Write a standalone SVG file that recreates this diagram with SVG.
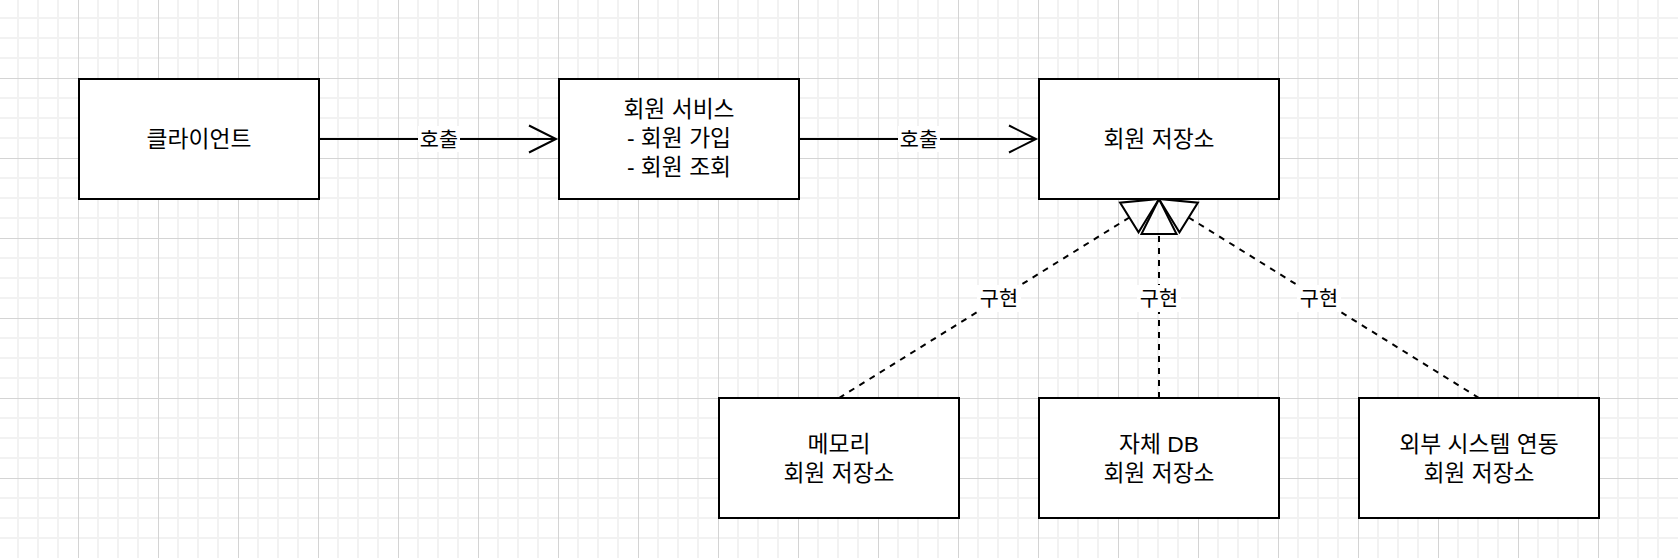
<svg xmlns="http://www.w3.org/2000/svg" width="1678" height="558" viewBox="0 0 1678 558">
<style>
.box{fill:#fff;stroke:#000;stroke-width:2}
.t{font-family:"Liberation Sans","Noto Sans CJK KR",sans-serif;font-size:22.8px;text-anchor:middle;fill:#000}
.lbl{font-family:"Liberation Sans","Noto Sans CJK KR",sans-serif;font-size:20.8px;text-anchor:middle;fill:#000}
.lbg{fill:#fff}
.call{stroke:#000;stroke-width:2;fill:none}
.impl{stroke:#000;stroke-width:2;fill:none;stroke-dasharray:6 6}
.mk{fill:none;stroke:#000;stroke-width:2;stroke-dasharray:none}
</style>
<defs>
<pattern id="grid" patternUnits="userSpaceOnUse" x="0" y="0" width="80" height="80">
<rect width="80" height="80" fill="#fff"/>
<g fill="#f2f2f2">
<rect x="17" y="0" width="2" height="80"/><rect x="37" y="0" width="2" height="80"/><rect x="57" y="0" width="2" height="80"/>
<rect x="0" y="17" width="80" height="2"/><rect x="0" y="37" width="80" height="2"/><rect x="0" y="57" width="80" height="2"/>
</g>
<g fill="#d4d4d4">
<rect x="78" y="0" width="1" height="80"/><rect x="0" y="78" width="80" height="1"/>
</g>
</pattern>
<marker id="open" markerUnits="userSpaceOnUse" markerWidth="60" markerHeight="60" refX="0" refY="0" orient="auto" overflow="visible" style="overflow:visible">
<path class="mk" d="M-27,-13.5 L0,0 L-27,13.5"/>
</marker>
<marker id="tri" markerUnits="userSpaceOnUse" markerWidth="60" markerHeight="60" refX="0" refY="0" orient="auto" overflow="visible" style="overflow:visible">
<path class="mk" d="M35,0 L0,-17.5 L0,17.5 Z"/>
</marker>
</defs>
<rect x="0" y="0" width="1678" height="558" fill="url(#grid)"/>

<g id="connectors">
<g id="e-client-service">
<path class="call" d="M319,139 L556,139" marker-end="url(#open)"/>
<rect class="lbg" x="418" y="126" width="42" height="26"/>
<text class="lbl" x="439" y="146.5">호출</text>
</g>
<g id="e-service-storage">
<path class="call" d="M799,139 L1036,139" marker-end="url(#open)"/>
<rect class="lbg" x="898" y="126" width="42" height="26"/>
<text class="lbl" x="919" y="146.5">호출</text>
</g>
<g id="e-memory-storage">
<path class="impl" d="M839,398 L1129.3,217.5" marker-end="url(#tri)"/>
<rect class="lbg" x="977" y="285" width="44" height="27"/>
<text class="lbl" x="999" y="305.5">구현</text>
</g>
<g id="e-db-storage">
<path class="impl" d="M1159,398 L1159,234" marker-end="url(#tri)"/>
<rect class="lbg" x="1137" y="285" width="44" height="27"/>
<text class="lbl" x="1159" y="305.5">구현</text>
</g>
<g id="e-external-storage">
<path class="impl" d="M1479,398 L1188.7,217.5" marker-end="url(#tri)"/>
<rect class="lbg" x="1297" y="285" width="44" height="27"/>
<text class="lbl" x="1319" y="305.5">구현</text>
</g>
</g>

<g id="client">
<rect class="box" x="79" y="79" width="240" height="120"/>
<text class="t" x="199" y="147">클라이언트</text>
</g>
<g id="member-service">
<rect class="box" x="559" y="79" width="240" height="120"/>
<text class="t" x="679" y="117">회원 서비스</text>
<text class="t" x="679" y="146">- 회원 가입</text>
<text class="t" x="679" y="175">- 회원 조회</text>
</g>
<g id="member-repository">
<rect class="box" x="1039" y="79" width="240" height="120"/>
<text class="t" x="1159" y="147">회원 저장소</text>
</g>
<g id="memory-repository">
<rect class="box" x="719" y="398" width="240" height="120"/>
<text class="t" x="839" y="451.5">메모리</text>
<text class="t" x="839" y="480.5">회원 저장소</text>
</g>
<g id="db-repository">
<rect class="box" x="1039" y="398" width="240" height="120"/>
<text class="t" x="1159" y="451.5">자체 DB</text>
<text class="t" x="1159" y="480.5">회원 저장소</text>
</g>
<g id="external-repository">
<rect class="box" x="1359" y="398" width="240" height="120"/>
<text class="t" x="1479" y="451.5">외부 시스템 연동</text>
<text class="t" x="1479" y="480.5">회원 저장소</text>
</g>
</svg>
